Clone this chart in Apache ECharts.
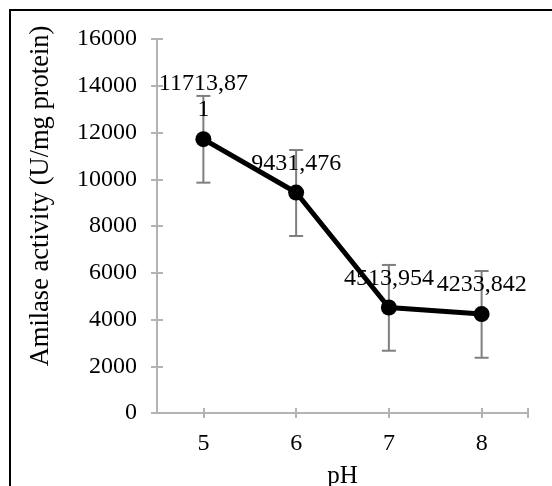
<!DOCTYPE html>
<html>
<head>
<meta charset="utf-8">
<title>Amilase activity vs pH</title>
<script src="https://cdn.jsdelivr.net/npm/echarts@6/dist/echarts.min.js"></script>
<style>
  html, body { margin: 0; padding: 0; background: #fff; }
  #frame { position: absolute; left: 9px; top: 9px; width: 560px; height: 500px;
           border-left: 2px solid #000; border-top: 2px solid #000; box-sizing: border-box; }
  #container { position: absolute; left: 0; top: 0; width: 552px; height: 486px; }
</style>
</head>
<body>
<div id="frame"></div>
<div id="container"></div>
<script>
// data
var phValues = [5, 6, 7, 8];
var activity = [11713.871, 9431.476, 4513.954, 4233.842];
var errLow = [1860, 1860, 1850, 1870];
var errHigh = [1850, 1820, 1820, 1840];
var xTicks = [5, 6, 7, 8, 8.5];
var xLabels = [5, 6, 7, 8];

var FONT = 'Liberation Serif';
var axisGray = '#b3b3b3';

var lineData = phValues.map(function (p, i) { return [p, activity[i]]; });
var errData = phValues.map(function (p, i) {
  return [p, activity[i] - errLow[i], activity[i] + errHigh[i]];
});

var myChart = echarts.init(document.getElementById('container'));
var option = {
  animation: false,
  textStyle: { fontFamily: FONT },
  grid: { left: 157, right: 24, top: 39, bottom: 73, outerBoundsMode: 'none', containLabel: false },
  xAxis: [{
    type: 'value', min: 4.5, max: 8.5,
    axisLine: { lineStyle: { color: axisGray, width: 2 } },
    axisTick: { customValues: xTicks, length: 5, lineStyle: { color: axisGray, width: 2 } },
    axisLabel: { customValues: xLabels, color: '#000', fontSize: 24, fontFamily: FONT, margin: 19 },
    splitLine: { show: false },
    name: 'pH', nameLocation: 'middle', nameGap: 51,
    nameTextStyle: { color: '#000', fontSize: 25, fontFamily: FONT }
  }, {
    type: 'value', min: 4.5, max: 8.5, position: 'bottom',
    axisLine: { show: false },
    axisTick: { customValues: xTicks, inside: true, length: 5, lineStyle: { color: axisGray, width: 2 } },
    axisLabel: { show: false },
    splitLine: { show: false }
  }],
  yAxis: [{
    type: 'value', min: 0, max: 16000, interval: 2000,
    axisLine: { show: true, lineStyle: { color: axisGray, width: 2 } },
    axisTick: { show: true, length: 6, lineStyle: { color: axisGray, width: 2 } },
    axisLabel: { color: '#000', fontSize: 24, fontFamily: FONT, margin: 20,
      formatter: function (v) { return String(v); } },
    splitLine: { show: false }
  }, {
    type: 'value', min: 0, max: 16000, interval: 2000, position: 'left',
    axisLine: { show: false },
    axisTick: { show: true, inside: true, length: 6, lineStyle: { color: axisGray, width: 2 } },
    axisLabel: { show: false },
    splitLine: { show: false }
  }],
  graphic: [{
    type: 'text', x: 41, y: 196, rotation: Math.PI / 2,
    style: {
      text: 'Amilase activity (U/mg protein)', fill: '#000',
      font: '26.5px "Liberation Serif"', align: 'center', verticalAlign: 'middle'
    }
  }],
  series: [{
    type: 'custom',
    data: errData,
    z: 1,
    renderItem: function (params, api) {
      var x = api.value(0);
      var lo = api.coord([x, api.value(1)]);
      var hi = api.coord([x, api.value(2)]);
      var cap = 7;
      var st = { stroke: '#7f7f7f', lineWidth: 2 };
      return {
        type: 'group',
        children: [
          { type: 'line', shape: { x1: lo[0], y1: lo[1], x2: hi[0], y2: hi[1] }, style: st },
          { type: 'line', shape: { x1: lo[0] - cap, y1: lo[1], x2: lo[0] + cap, y2: lo[1] }, style: st },
          { type: 'line', shape: { x1: hi[0] - cap, y1: hi[1], x2: hi[0] + cap, y2: hi[1] }, style: st }
        ]
      };
    }
  }, {
    type: 'line',
    data: lineData,
    z: 3,
    symbol: 'circle',
    symbolSize: 16,
    lineStyle: { color: '#000', width: 5 },
    itemStyle: { color: '#000' },
    label: {
      show: true, position: 'top', distance: 8,
      color: '#000', fontSize: 24, fontFamily: FONT, lineHeight: 26,
      width: 96, overflow: 'breakAll',
      formatter: function (p) { return String(p.value[1]).replace('.', ','); }
    }
  }]
};
myChart.setOption(option);
</script>
</body>
</html>
